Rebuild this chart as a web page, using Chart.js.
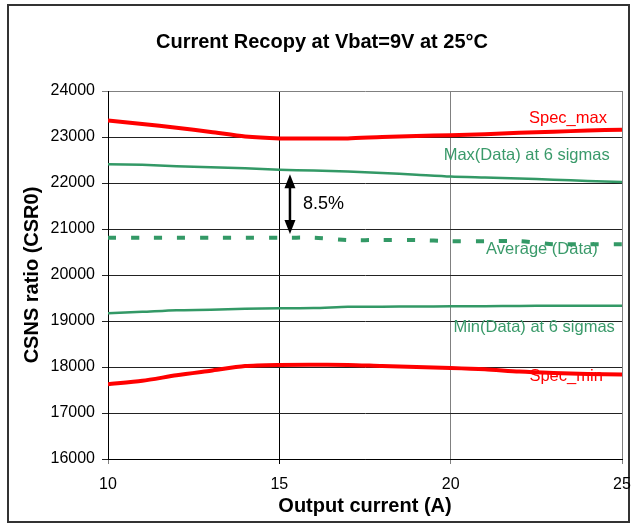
<!DOCTYPE html>
<html>
<head>
<meta charset="utf-8">
<script src="https://cdn.jsdelivr.net/npm/chart.js@4.4.1/dist/chart.umd.min.js"></script>
<style>
  html, body { margin: 0; padding: 0; background: #fff; }
  #wrap { position: relative; width: 634px; height: 525px; }
</style>
</head>
<body>
<div id="wrap"><canvas id="chart" width="634" height="525"></canvas></div>
<script>
// Data
const currents = [10, 11, 12, 13, 14, 15, 16, 17, 18, 19, 20, 21, 22, 23, 24, 25];
const specMax  = [23360, 23285, 23200, 23110, 23010, 22970, 22970, 22970, 23000, 23020, 23040, 23060, 23090, 23115, 23140, 23160];
const maxData  = [22410, 22395, 22365, 22340, 22320, 22290, 22270, 22250, 22220, 22180, 22140, 22120, 22100, 22070, 22045, 22020];
const avgData  = [20810, 20810, 20810, 20810, 20810, 20810, 20810, 20760, 20760, 20760, 20735, 20735, 20735, 20670, 20670, 20670];
const minData  = [19170, 19200, 19235, 19245, 19265, 19278, 19280, 19310, 19312, 19315, 19318, 19322, 19328, 19330, 19332, 19333];
const specMin  = [17627, 17700, 17820, 17920, 18020, 18045, 18048, 18046, 18020, 18000, 17980, 17950, 17900, 17870, 17850, 17836];

const yTicks = [16000, 17000, 18000, 19000, 20000, 21000, 22000, 23000, 24000];
const xTicks = [10, 15, 20, 25];

// Series labels: text, colour, right edge (x value), centre (y value)
const seriesLabels = [
  { text: 'Spec_max', color: '#ff0000', x: 24.56, y: 23407 },
  { text: 'Max(Data) at 6 sigmas', color: '#3a9a6a', x: 24.64, y: 22604 },
  { text: 'Average (Data)', color: '#3a9a6a', x: 24.29, y: 20564 },
  { text: 'Min(Data) at 6 sigmas', color: '#3a9a6a', x: 24.79, y: 18849 },
  { text: 'Spec_min', color: '#ff0000', x: 24.44, y: 17786 }
];

// Gap arrow between max and average
const gapArrow = { x: 15.31, from: 22192, to: 20890, label: '8.5%' };

const RED = '#ff0000';
const GREEN = '#339966';
const FONT = '"Liberation Sans", Arial, sans-serif';

function toPoints(ys) {
  return currents.map((x, i) => ({ x: x, y: ys[i] }));
}

// Frame, title, labels and arrow
const decorPlugin = {
  id: 'decor',
  beforeDraw(chart) {
    const ctx = chart.ctx;
    ctx.save();
    ctx.fillStyle = '#fff';
    ctx.fillRect(0, 0, chart.width, chart.height);
    ctx.strokeStyle = '#333';
    ctx.lineWidth = 2;
    ctx.strokeRect(8, 5, 621, 517);
    ctx.fillStyle = '#000';
    ctx.font = 'bold 20px ' + FONT;
    ctx.textAlign = 'center';
    ctx.textBaseline = 'middle';
    ctx.fillText('Current Recopy at Vbat=9V at 25°C', 322, 42);
    ctx.restore();
  },
  afterDatasetsDraw(chart) {
    const ctx = chart.ctx;
    const xs = chart.scales.x;
    const ys = chart.scales.y;
    ctx.save();
    ctx.font = '16.5px ' + FONT;
    ctx.textAlign = 'right';
    ctx.textBaseline = 'middle';
    seriesLabels.forEach(l => {
      ctx.fillStyle = l.color;
      ctx.fillText(l.text, xs.getPixelForValue(l.x), ys.getPixelForValue(l.y));
    });

    // double-headed arrow
    const ax = xs.getPixelForValue(gapArrow.x);
    const y1 = ys.getPixelForValue(gapArrow.from);
    const y2 = ys.getPixelForValue(gapArrow.to);
    const head = 14;
    ctx.strokeStyle = '#000';
    ctx.fillStyle = '#000';
    ctx.lineWidth = 2.5;
    ctx.beginPath();
    ctx.moveTo(ax, y1 + head - 2);
    ctx.lineTo(ax, y2 - head + 2);
    ctx.stroke();
    ctx.beginPath();
    ctx.moveTo(ax, y1);
    ctx.lineTo(ax - 5.5, y1 + head);
    ctx.lineTo(ax + 5.5, y1 + head);
    ctx.closePath();
    ctx.fill();
    ctx.beginPath();
    ctx.moveTo(ax, y2);
    ctx.lineTo(ax - 5.5, y2 - head);
    ctx.lineTo(ax + 5.5, y2 - head);
    ctx.closePath();
    ctx.fill();

    ctx.font = '18px ' + FONT;
    ctx.textAlign = 'left';
    ctx.fillText(gapArrow.label, ax + 13, (y1 + y2) / 2);
    ctx.restore();
  }
};

const ctx = document.getElementById('chart').getContext('2d');
new Chart(ctx, {
  type: 'line',
  data: {
    datasets: [
      { label: 'Spec_max', data: toPoints(specMax), borderColor: RED, borderWidth: 4 },
      { label: 'Max(Data) at 6 sigmas', data: toPoints(maxData), borderColor: GREEN, borderWidth: 2.5 },
      { label: 'Average (Data)', data: toPoints(avgData), borderColor: GREEN, borderWidth: 4, borderDash: [8, 15] },
      { label: 'Min(Data) at 6 sigmas', data: toPoints(minData), borderColor: GREEN, borderWidth: 2.5 },
      { label: 'Spec_min', data: toPoints(specMin), borderColor: RED, borderWidth: 4 }
    ]
  },
  options: {
    responsive: false,
    animation: false,
    layout: { padding: { left: 10, right: 12, top: 91, bottom: 4 } },
    elements: {
      point: { radius: 0 },
      line: { tension: 0.25, fill: false }
    },
    plugins: {
      legend: { display: false },
      tooltip: { enabled: false },
      title: { display: false }
    },
    scales: {
      x: {
        type: 'linear',
        min: 10,
        max: 25,
        afterBuildTicks: scale => { scale.ticks = xTicks.map(v => ({ value: v })); },
        afterFit: scale => {
          scale.height = 62;
          scale.paddingLeft = 0;
          scale.paddingRight = 0;
        },
        grid: {
          color: c => (c.tick && c.tick.value === 15) ? '#000' : '#808080',
          tickLength: 5,
          lineWidth: 1
        },
        border: { color: '#000', width: 1 },
        ticks: {
          color: '#000',
          font: { family: FONT, size: 16 },
          padding: 11,
          maxRotation: 0,
          callback: v => String(v)
        },
        title: {
          display: true,
          text: 'Output current (A)',
          color: '#000',
          font: { family: FONT, size: 20, weight: 'bold' },
          padding: { top: 0, bottom: 3 }
        }
      },
      y: {
        min: 16000,
        max: 24000,
        afterBuildTicks: scale => { scale.ticks = yTicks.map(v => ({ value: v })); },
        afterFit: scale => { scale.width = 98; },
        grid: {
          color: c => (c.tick && c.tick.value === 24000) ? '#808080' : '#222',
          tickLength: 6,
          lineWidth: 1
        },
        border: { color: '#000', width: 1 },
        ticks: {
          color: '#000',
          font: { family: FONT, size: 16 },
          padding: 7,
          callback: v => String(v)
        },
        title: {
          display: true,
          text: 'CSNS ratio (CSR0)',
          color: '#000',
          font: { family: FONT, size: 20, weight: 'bold' },
          padding: { top: 10, bottom: 0 }
        }
      }
    }
  },
  plugins: [decorPlugin]
});
</script>
</body>
</html>
